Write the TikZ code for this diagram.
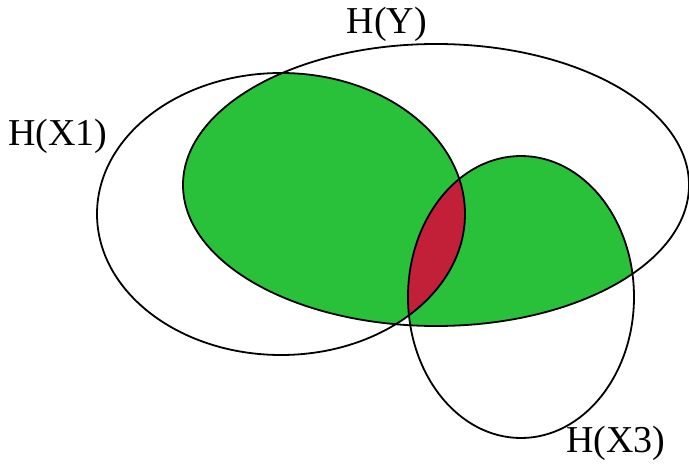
\documentclass[tikz,border=0pt]{standalone}
\usepackage{fontspec}
\setmainfont{Liberation Serif}
\definecolor{vgreen}{RGB}{41,193,58}
\definecolor{vred}{RGB}{194,31,56}
\begin{document}
\begin{tikzpicture}[x=1pt, y=-1pt,
    lbl/.style={font=\fontsize{38}{40}\selectfont, inner sep=0pt},
    rim/.style={line width=1.8pt, black}]
        \useasboundingbox (0,0) rectangle (689,465);

        % Green: H(Y) together with H(X1) or H(X3)
        \begin{scope}
            \clip (436,185) ellipse (253pt and 141pt);
            \fill[vgreen] (281,214) ellipse (184pt and 141pt);
            \fill[vgreen] (521,297) ellipse (113pt and 141pt);
        \end{scope}

        % Red: H(X1) together with H(X3)
        \begin{scope}
            \clip (281,214) ellipse (184pt and 141pt);
            \fill[vred] (521,297) ellipse (113pt and 141pt);
        \end{scope}

        % Outlines
        \draw[rim] (436,185) ellipse (253pt and 141pt);
        \draw[rim] (281,214) ellipse (184pt and 141pt);
        \draw[rim] (521,297) ellipse (113pt and 141pt);

        % Labels
        \node[lbl] (hy) at (387,24) {H(Y)};
        \node[lbl] (hx1) at (58,136) {H(X1)};
        \node[lbl] (hx3) at (616,443) {H(X3)};
    \end{tikzpicture}
\end{document}
